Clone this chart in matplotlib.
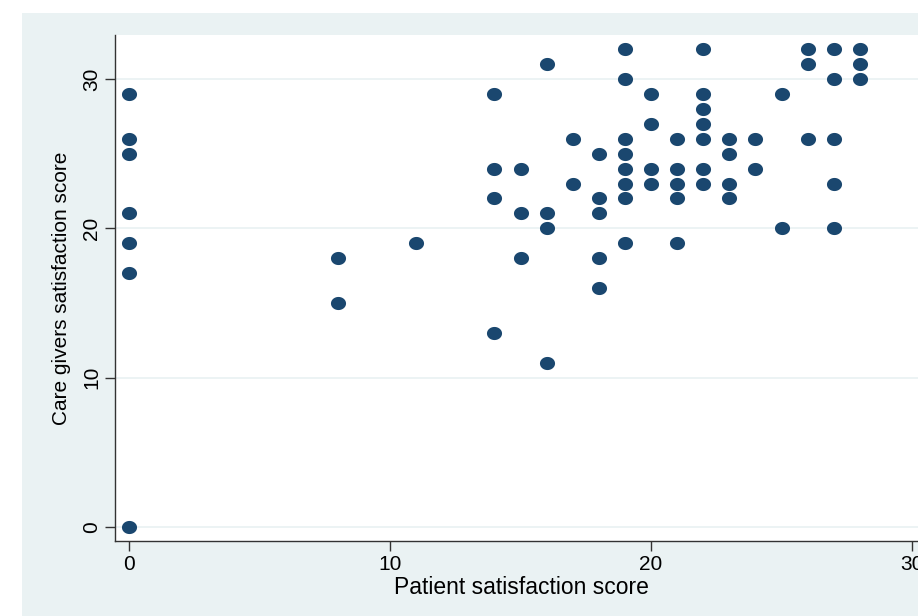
import matplotlib
matplotlib.use("Agg")
import matplotlib.pyplot as plt
import numpy as np
from matplotlib.path import Path
from matplotlib.patches import Rectangle

plt.rcParams["font.family"] = ["Liberation Sans", "DejaVu Sans"]

# patient score -> list of caregiver scores observed at that value
patient = [0, 0, 0, 0, 0, 0, 0,
           8, 8,
           11,
           14, 14, 14, 14,
           15, 15, 15,
           16, 16, 16, 16,
           17, 17,
           18, 18, 18, 18, 18,
           19, 19, 19, 19, 19, 19, 19, 19,
           20, 20, 20, 20,
           21, 21, 21, 21, 21,
           22, 22, 22, 22, 22, 22, 22,
           23, 23, 23, 23,
           24, 24,
           25, 25,
           26, 26, 26,
           27, 27, 27, 27, 27,
           28, 28, 28]
caregiver = [29, 26, 25, 21, 19, 17, 0,
             18, 15,
             19,
             29, 24, 22, 13,
             24, 21, 18,
             31, 21, 20, 11,
             26, 23,
             25, 22, 21, 18, 16,
             32, 30, 26, 25, 24, 23, 22, 19,
             29, 27, 24, 23,
             26, 24, 23, 22, 19,
             32, 29, 28, 27, 26, 24, 23,
             26, 25, 23, 22,
             26, 24,
             29, 20,
             32, 31, 26,
             32, 30, 26, 23, 20,
             32, 31, 30]

x_ticks = [0, 10, 20, 30]
y_ticks = [0, 10, 20, 30]

BG = "#eaf2f3"
NAVY = "#1a476f"

W, H = 918, 616
fig = plt.figure(figsize=(W / 100, H / 100), dpi=100)
fig.patch.set_facecolor("white")
fig.add_artist(Rectangle((22 / W, 0), 1, (H - 13) / H, transform=fig.transFigure,
                         facecolor=BG, edgecolor="none", zorder=0))

ax = fig.add_axes([115 / W, (H - 541) / H, (935 - 115) / W, (541 - 35) / H])
ax.set_facecolor("white")

# slightly wide dots, like the reference
t = np.linspace(0, 2 * np.pi, 60)
ellipse = Path(np.column_stack([1.15 * np.cos(t), np.sin(t)]), closed=True)
ax.scatter(patient, caregiver, marker=ellipse, s=118, color=NAVY,
           linewidths=0, zorder=3, clip_on=False)

ax.set_xlim(-0.54, 30.88)
ax.set_ylim(-0.94, 32.95)
ax.set_xticks(x_ticks)
ax.set_yticks(y_ticks)
ax.grid(axis="y", color=BG, linewidth=1.3, zorder=1)
ax.set_axisbelow(True)

for side in ("top", "right"):
    ax.spines[side].set_visible(False)
for side in ("left", "bottom"):
    ax.spines[side].set_color("#333333")
    ax.spines[side].set_linewidth(1.0)

ax.tick_params(axis="both", direction="out", length=7, width=1.0,
               color="#333333", labelsize=15, pad=3)
for lab in ax.get_yticklabels():
    lab.set_rotation(90)
    lab.set_va("center")

ax.set_xlabel("Patient satisfaction score", fontsize=16.5, labelpad=-2)
ax.set_ylabel("Care givers satisfaction score", fontsize=15, labelpad=8)
ax.xaxis.set_label_coords((521 - 115) / (935 - 115), -0.07)

fig.savefig("out.png", dpi=100)
